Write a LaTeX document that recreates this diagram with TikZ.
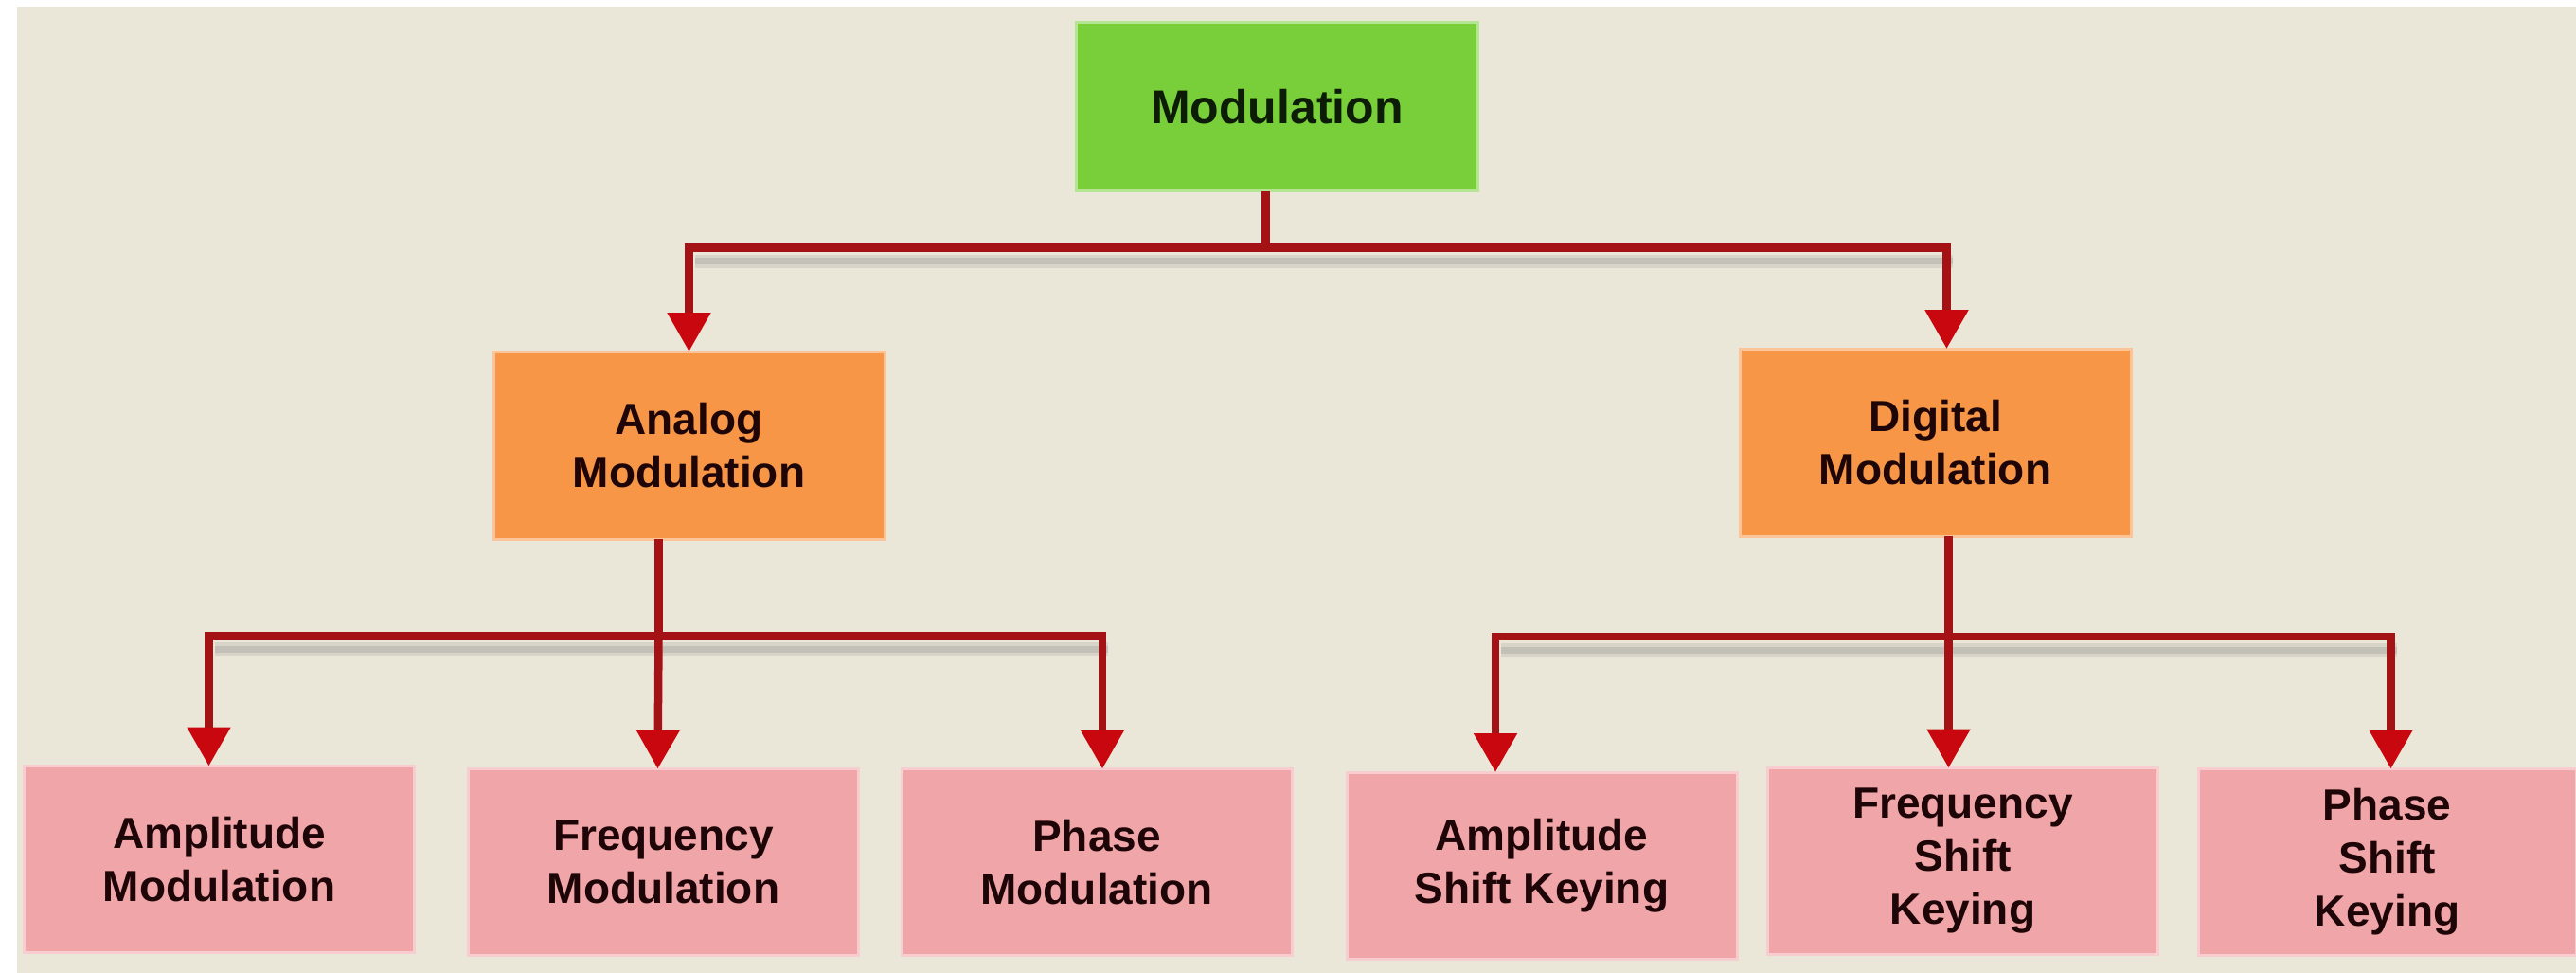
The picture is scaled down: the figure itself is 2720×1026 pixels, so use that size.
\documentclass[tikz,border=0pt]{standalone}
\usepackage{fontspec}
\setmainfont{Liberation Sans}
\usetikzlibrary{arrows.meta}
\definecolor{bg}{RGB}{234,231,216}
\definecolor{grn}{RGB}{121,207,57}
\definecolor{org}{RGB}{247,150,70}
\definecolor{pnk}{RGB}{240,165,168}
\definecolor{lred}{RGB}{165,18,22}
\definecolor{ared}{RGB}{200,8,14}
\definecolor{txt}{RGB}{30,6,8}
\definecolor{gtxt}{RGB}{12,28,6}
\begin{document}
\begin{tikzpicture}[x=1pt,y=-1pt,
  box/.style={rectangle, inner sep=0pt, outer sep=0pt, align=center,
    font=\bfseries\fontsize{46}{56}\selectfont, text=txt, line width=3pt},
  topbox/.style={box, fill=grn, draw=grn!55!white, minimum width=424pt, minimum height=178pt,
    font=\bfseries\fontsize{50}{60}\selectfont, text=gtxt},
  midbox/.style={box, fill=org, draw=org!55!white, minimum width=413pt, minimum height=198pt},
  leafbox/.style={box, fill=pnk, draw=pnk!55!white, minimum width=412pt, minimum height=197pt},
  conn/.style={draw=lred, line width=8.5pt},
  arr/.style={conn, -{Triangle[width=44pt,length=41pt,color=ared]}},
  shad/.style={draw=black!55, line width=14pt, opacity=.15,
    transform canvas={xshift=6pt,yshift=-14pt}},
  shadcore/.style={draw=black!55, line width=7pt, opacity=.2,
    transform canvas={xshift=6pt,yshift=-14pt}}
]
\useasboundingbox (0,0) rectangle (2720,1026);
\fill[white] (-10,-10) rectangle (2730,1040);
\fill[bg] (18,7) rectangle (2730,1040);

% nodes
\node[topbox] (mod) at (1348.5,112.5) {Modulation};
\node[midbox] (analog) at (727.5,470) {Analog\\Modulation};
\node[midbox] (digital) at (2043.5,467) {Digital\\Modulation};
\node[leafbox] (am) at (231.5,907) {Amplitude\\Modulation};
\node[leafbox] (fm) at (700.5,910) {Frequency\\Modulation};
\node[leafbox] (pm) at (1158,910) {Phase\\Modulation};
\node[leafbox] (ask) at (1628,913.5) {Amplitude\\Shift Keying};
\node[leafbox] (fsk) at (2072.5,909) {Frequency\\Shift\\Keying};
\node[leafbox, minimum width=399pt] (psk) at (2520.5,910) {Phase\\Shift\\Keying};

% connector anchor points
\coordinate (mOut) at ([xshift=-12pt]mod.south);
\coordinate (dIn) at ([xshift=12pt]digital.north);
\coordinate (aOut) at ([xshift=-32pt]analog.south);
\coordinate (dOut) at ([xshift=14pt]digital.south);
\coordinate (t1) at ([yshift=-60pt]mOut);
\coordinate (t2) at ([yshift=-102pt]aOut);
\coordinate (t3) at ([yshift=-106pt]dOut);
\coordinate (amIn) at ([xshift=-11pt]am.north);
\coordinate (fmIn) at ([xshift=-6pt]fm.north);
\coordinate (pmIn) at ([xshift=6pt]pm.north);
\coordinate (askIn) at ([xshift=-49pt]ask.north);
\coordinate (fskIn) at ([xshift=-15pt]fsk.north);
\coordinate (pskIn) at ([xshift=4pt]psk.north);

% shadows of the horizontal bars
\foreach \s in {shad,shadcore}{
  \draw[\s] (analog.north |- t1) -- (dIn |- t1);
  \draw[\s] (amIn |- t2) -- (pmIn |- t2);
  \draw[\s] (askIn |- t3) -- (pskIn |- t3);
}

% connectors
\draw[conn] (mOut) -- (t1);
\draw[arr] (t1) -| (analog.north);
\draw[arr] (t1) -| (dIn);

\draw[conn] (aOut) -- (t2);
\draw[arr] (t2) -| (amIn);
\draw[arr] (t2) -- (fmIn);
\draw[arr] (t2) -| (pmIn);

\draw[conn] (dOut) -- (t3);
\draw[arr] (t3) -| (askIn);
\draw[arr] (t3) -- (fskIn);
\draw[arr] (t3) -| (pskIn);
\end{tikzpicture}
\end{document}
